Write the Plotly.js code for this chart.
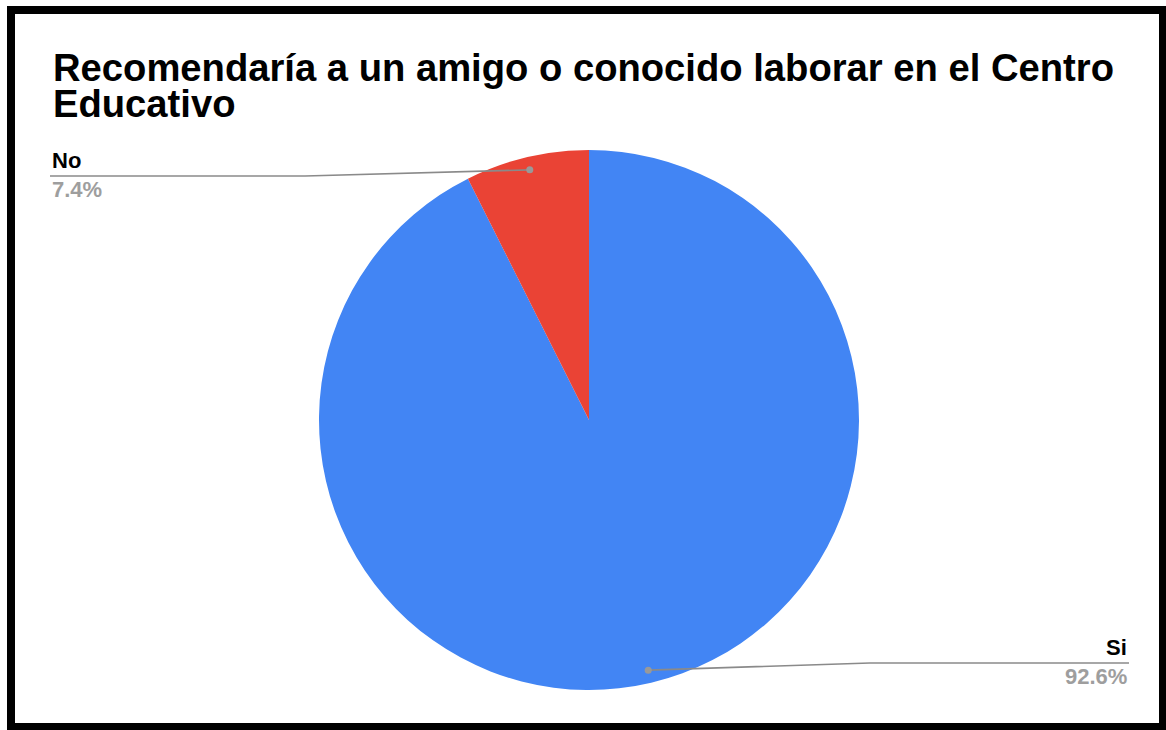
<!DOCTYPE html>
<html>
<head>
<meta charset="utf-8">
<script src="https://cdn.plot.ly/plotly-3.0.1.min.js"></script>
<style>
html,body{margin:0;padding:0;background:#fff;}
#chart{width:1166px;height:730px;}
</style>
</head>
<body>
<div id="chart"></div>
<script>
// ---- data ----
const categories = ["Si", "No"];
const percentValues = [92.6, 7.4];
const sliceColors = ["#4285F4", "#EA4335"];
const titleLines = ["Recomendaría a un amigo o conocido laborar en el Centro", "Educativo"];

// ---- geometry (pixels) ----
const W = 1166, H = 730;
const cx = 589, cy = 420, R = 270;
const px = x => x / W;
const py = y => 1 - y / H;

const total = percentValues.reduce((a, b) => a + b, 0);
// mid angle (clockwise from top) of each slice
let cum = 0;
const mids = percentValues.map(v => { const m = (cum + v / 2) / total * 2 * Math.PI; cum += v; return m; });
const dot = mids.map(a => [cx + 0.952 * R * Math.sin(a), cy - 0.952 * R * Math.cos(a)]);

// label layout per category: elbow x, line y, end x, anchor
const labelCfg = {
  "No": {elbowX: 305, lineY: 176, endX: 50, anchor: "left"},
  "Si": {elbowX: 870, lineY: 663, endX: 1129, anchor: "right"}
};

const FONT = "Liberation Sans, Arial, sans-serif";
const shapes = [];
const annotations = [];
categories.forEach((c, i) => {
  const cfg = labelCfg[c];
  const [dx, dy] = dot[i];
  shapes.push({type: "path", xref: "paper", yref: "paper",
    path: `M ${px(dx)} ${py(dy)} L ${px(cfg.elbowX)} ${py(cfg.lineY)} L ${px(cfg.endX)} ${py(cfg.lineY)}`,
    line: {color: "#8a8a8a", width: 1.6}});
  shapes.push({type: "circle", xref: "paper", yref: "paper",
    x0: px(dx - 3.5), x1: px(dx + 3.5), y0: py(dy + 3.5), y1: py(dy - 3.5),
    fillcolor: "#999999", line: {width: 0}});
  annotations.push({xref: "paper", yref: "paper", x: px(cfg.endX), y: py(cfg.lineY - 16),
    xanchor: cfg.anchor, yanchor: "middle", showarrow: false, text: "<b>" + c + "</b>",
    font: {family: FONT, size: 22, color: "#000000"}});
  annotations.push({xref: "paper", yref: "paper", x: px(cfg.endX), y: py(cfg.lineY + 13),
    xanchor: cfg.anchor, yanchor: "middle", showarrow: false,
    text: "<b>" + percentValues[i].toFixed(1) + "%</b>",
    font: {family: FONT, size: 22, color: "#9e9e9e"}});
});

// title: one text; base font size sets the 36px line pitch, spans set glyph size
const titleHtml = titleLines.map(t => '<span style="font-size:38.2px"><b>' + t + '</b></span>').join("<br>");
annotations.push({xref: "paper", yref: "paper", x: px(51), y: py(86), xanchor: "left", yanchor: "middle",
  align: "left", showarrow: false, text: titleHtml,
  font: {family: FONT, size: 36 / 1.3, color: "#000000"}});

// frame
shapes.push({type: "rect", xref: "paper", yref: "paper",
  x0: px(11), x1: px(1163), y0: py(727), y1: py(10), line: {color: "#000000", width: 8}});

const trace = {
  type: "pie",
  labels: categories,
  values: percentValues,
  marker: {colors: sliceColors, line: {width: 0}},
  sort: false,
  direction: "clockwise",
  rotation: 0,
  textinfo: "none",
  hoverinfo: "label+percent",
  domain: {x: [px(cx - R), px(cx + R)], y: [py(cy + R), py(cy - R)]},
  showlegend: false
};

const layout = {
  width: W, height: H,
  margin: {l: 0, r: 0, t: 0, b: 0},
  paper_bgcolor: "#ffffff",
  showlegend: false,
  shapes: shapes,
  annotations: annotations
};

Plotly.newPlot("chart", [trace], layout, {displayModeBar: false, staticPlot: true});
</script>
</body>
</html>
